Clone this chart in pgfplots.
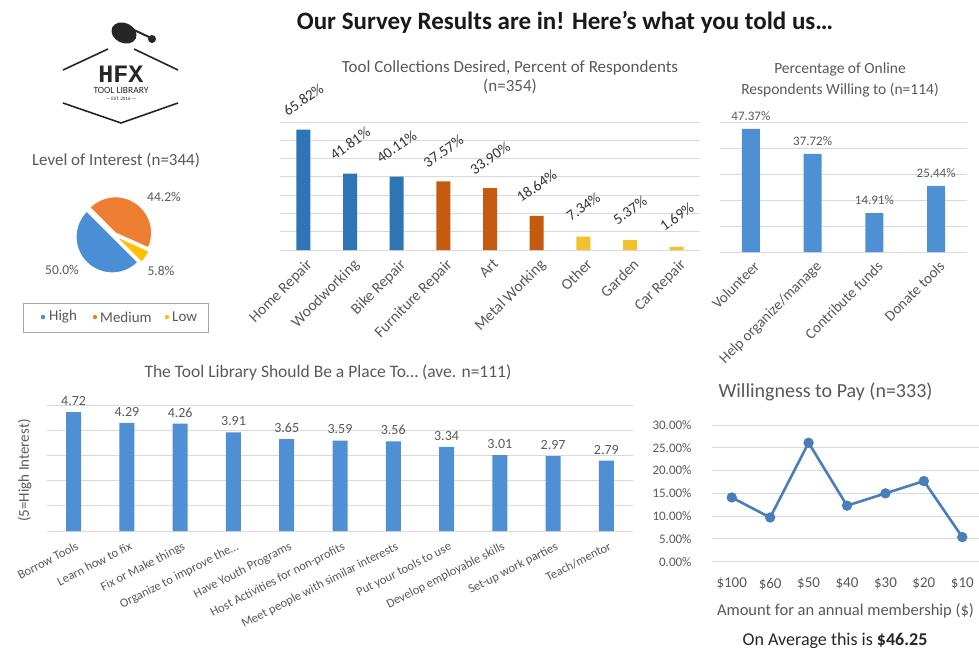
\documentclass[border=0pt]{standalone}
\usepackage{pgfplots}
\pgfplotsset{compat=1.18}
\usepackage{fontspec}
\setmainfont{Carlito}
\newfontfamily\slab{Liberation Mono}
\definecolor{dblue}{HTML}{2E75B6}
\definecolor{dorange}{HTML}{C55A11}
\definecolor{dgold}{HTML}{F2C12E}
\definecolor{mblue}{HTML}{4F8FD3}
\definecolor{lineblue}{HTML}{4A7EBB}
\definecolor{pblue}{HTML}{4A8FD6}
\definecolor{porange}{HTML}{ED7D31}
\definecolor{pyellow}{HTML}{FFC000}
\definecolor{txt}{HTML}{595959}
\definecolor{gridc}{HTML}{D9D9D9}
\pgfplotsset{
  /pgf/number format/assume math mode=true,
  barbase/.style={
    scale only axis, anchor=south west, ybar, bar shift=0pt,
    axis line style={draw=none}, major tick style={draw=none},
    ymajorgrids, grid style={draw=gridc, line width=0.9pt},
    yticklabels={}, ymin=0, enlargelimits=false, clip=false,
    tick label style={text=txt},
  }
}
\begin{document}
\begin{tikzpicture}[font=\fontsize{13}{15}\selectfont]
\useasboundingbox (0,0) rectangle (979pt,-656pt);
\fill[white] (0,0) rectangle (979pt,-656pt);

% main title
\node[font=\fontsize{25}{30}\selectfont\bfseries, text=black!90] at (565pt,-22pt) {Our Survey Results are in! Here’s what you told us…};

% logo
\begin{scope}[line width=1.6pt, draw=black!85]
\draw (63pt,-70pt) -- (108pt,-49pt);
\draw (134pt,-49pt) -- (178pt,-70pt);
\draw (63pt,-103pt) -- (121pt,-123pt) -- (178pt,-103pt);
\end{scope}
\fill[black!85, rotate around={-25:(124pt,-33pt)}] (124pt,-33pt) ellipse (13pt and 10pt);
\draw[black!85, line width=2pt] (134pt,-30pt) -- (149pt,-37pt);
\fill[black!85] (152pt,-39pt) circle (4pt);
\node[font=\slab\fontsize{25}{27}\selectfont\bfseries, text=black!85] at (121pt,-74pt) {HFX};
\node[font=\fontsize{9.5}{10}\selectfont, text=black!85] at (121pt,-90pt) {TOOL LIBRARY};
\node[font=\fontsize{5}{6}\selectfont, text=black!85] at (121pt,-99pt) {--- EST. 2016 ---};

% pie
\node[text=txt, font=\fontsize{17}{20}\selectfont] at (116pt,-160pt) {Level of Interest (n=344)};
\def\vHigh{50.0}\def\vMed{44.2}\def\vLow{5.8}
\pgfmathsetmacro\aA{135}
\pgfmathsetmacro\aB{\aA+3.6*\vHigh}
\pgfmathsetmacro\aC{\aB+3.6*\vLow}
\pgfmathsetmacro\aD{\aC+3.6*\vMed}
\begin{axis}[hide axis, scale only axis, width=72pt, height=72pt, at={(114pt,-235pt)}, anchor=center,
  xmin=-1, xmax=1, ymin=-1, ymax=1, clip=false]
\fill[pblue, draw=white, line width=0.8pt, shift={(225:2.6pt)}] (axis cs:0,0) -- ++(\aA:36pt) arc[start angle=\aA, end angle=\aB, radius=36pt] -- cycle;
\fill[pyellow, draw=white, line width=0.8pt, shift={(325:2.6pt)}] (axis cs:0,0) -- ++(\aB:36pt) arc[start angle=\aB, end angle=\aC, radius=36pt] -- cycle;
\fill[porange, draw=white, line width=0.8pt, shift={(55:2.6pt)}] (axis cs:0,0) -- ++(\aC:36pt) arc[start angle=\aC, end angle=\aD, radius=36pt] -- cycle;
\end{axis}
\node[text=txt, font=\fontsize{13.5}{15}\selectfont] at (164pt,-197pt) {44.2\%};
\node[text=txt, font=\fontsize{13.5}{15}\selectfont] at (62pt,-270pt) {50.0\%};
\node[text=txt, font=\fontsize{13.5}{15}\selectfont] at (161pt,-271pt) {5.8\%};
\draw[draw=black!35, line width=0.8pt] (23pt,-303pt) rectangle (208pt,-332pt);
\begin{scope}[font=\fontsize{15}{17}\selectfont, text=txt]
\fill[pblue] (43pt,-317pt) circle (2.2pt);
\node[anchor=west, inner sep=0pt] at (49pt,-317pt) {High};
\fill[porange] (95pt,-317pt) circle (2.2pt);
\node[anchor=west, inner sep=0pt] at (100pt,-317pt) {Medium};
\fill[pyellow] (167pt,-317pt) circle (2.2pt);
\node[anchor=west, inner sep=0pt] at (172pt,-317pt) {Low};
\end{scope}

% chart A
\node[text=txt, font=\fontsize{17}{19}\selectfont, align=center] at (510pt,-77pt) {Tool Collections Desired, Percent of Respondents\\(n=354)};
\begin{axis}[barbase, at={(280pt,-250pt)}, width=420pt, height=128pt,
  xmin=-0.5, xmax=8.5, ymax=70, ytick={0,10,...,70},
  xtick={0,...,8},
  xticklabels={Home Repair,Woodworking,Bike Repair,Furniture Repair,Art,Metal Working,Other,Garden,Car Repair},
  xticklabel style={rotate=45, anchor=north east, inner sep=1pt, yshift=-3pt, font=\fontsize{15.5}{17}\selectfont},
  bar width=14pt,
  nodes near coords={\pgfmathprintnumber[fixed,fixed zerofill,precision=2]{\pgfplotspointmeta}\%},
  every node near coord/.append style={font=\fontsize{15}{17}\selectfont, text=black!80, anchor=center, yshift=30pt, rotate=35},
]
\addplot[fill=dblue, draw=none] coordinates {(0,65.82) (1,41.81) (2,40.11)};
\addplot[fill=dorange, draw=none] coordinates {(3,37.57) (4,33.90) (5,18.64)};
\addplot[fill=dgold, draw=none] coordinates {(6,7.34) (7,5.37) (8,1.69)};
\end{axis}

% chart B
\node[text=txt, font=\fontsize{15.5}{21}\selectfont, align=center] at (840pt,-80pt) {Percentage of Online\\Respondents Willing to (n=114)};
\begin{axis}[barbase, at={(720pt,-252pt)}, width=247pt, height=130pt,
  xmin=-0.5, xmax=3.5, ymax=50, ytick={0,10,...,50},
  xtick={0,...,3},
  xticklabels={Volunteer,Help organize/manage,Contribute funds,Donate tools},
  xticklabel style={rotate=45, anchor=north east, inner sep=1pt, yshift=-3pt, font=\fontsize{15}{17}\selectfont},
  bar width=18pt,
  nodes near coords={\pgfmathprintnumber[fixed,fixed zerofill,precision=2]{\pgfplotspointmeta}\%},
  every node near coord/.append style={font=\fontsize{13}{15}\selectfont, text=txt, anchor=south, yshift=5pt},
]
\addplot[fill=mblue, draw=none] coordinates {(0,47.37) (1,37.72) (2,14.91) (3,25.44)};
\end{axis}

% chart C
\node[text=txt, font=\fontsize{17.5}{20}\selectfont] at (328pt,-373pt) {The Tool Library Should Be a Place To… (ave. n=111)};
\begin{axis}[barbase, at={(47pt,-531pt)}, width=586pt, height=126pt,
  xmin=-0.5, xmax=10.5, ymax=5, ytick={0,...,5},
  xtick={0,...,10},
  xticklabels={Borrow Tools,Learn how to fix,Fix or Make things,{Organize to improve the…},Have Youth Programs,Host Activities for non-profits,Meet people with similar interests,Put your tools to use,Develop employable skills,Set-up work parties,Teach/mentor},
  xticklabel style={rotate=27, anchor=north east, inner sep=1pt, yshift=-5pt, font=\fontsize{12.5}{14}\selectfont},
  bar width=15pt,
  ylabel={(5=High Interest)},
  every axis y label/.style={at={(axis description cs:-0.038,0.48)}, rotate=90, anchor=center, text=txt, font=\fontsize{15}{17}\selectfont},
  nodes near coords={\pgfmathprintnumber[fixed,fixed zerofill,precision=2]{\pgfplotspointmeta}},
  every node near coord/.append style={font=\fontsize{14}{16}\selectfont, text=txt, anchor=south, yshift=3pt},
]
\addplot[fill=mblue, draw=none] coordinates {(0,4.72) (1,4.29) (2,4.26) (3,3.91) (4,3.65) (5,3.59) (6,3.56) (7,3.34) (8,3.01) (9,2.97) (10,2.79)};
\end{axis}

% chart D
\node[text=txt, font=\fontsize{20}{23}\selectfont, anchor=west] at (715pt,-392pt) {Willingness to Pay (n=333)};
\begin{axis}[scale only axis, anchor=south west, at={(712pt,-561.7pt)}, width=267pt, height=136.7pt,
  xmin=-0.513, xmax=6.435, ymin=0, ymax=30, ytick={0,5,...,30},
  yticklabel={\pgfmathprintnumber[fixed,fixed zerofill,precision=2]{\tick}\%},
  xtick={0,...,6}, xticklabels={\$100,\$60,\$50,\$40,\$30,\$20,\$10},
  axis line style={draw=none}, major tick style={draw=none},
  ymajorgrids, grid style={draw=gridc, line width=0.9pt},
  tick label style={text=txt, font=\fontsize{13}{15}\selectfont},
  xticklabel style={yshift=-13pt, font=\fontsize{15}{17}\selectfont},
  yticklabel style={xshift=-17pt},
  xlabel={Amount for an annual membership (\$)},
  every axis x label/.style={at={(axis description cs:0.5,-0.36)}, anchor=center, text=txt, font=\fontsize{16.5}{19}\selectfont},
  clip=false,
]
\addplot[color=lineblue, line width=2.6pt, mark=*, mark size=3.8pt, mark options={fill=lineblue, draw=lineblue}] coordinates {(0,14.1) (1,9.7) (2,26.1) (3,12.3) (4,15.0) (5,17.7) (6,5.4)};
\end{axis}
\node[font=\fontsize{18}{21}\selectfont, text=black!85] at (835pt,-641pt) {On Average this is \textbf{\$46.25}};
\end{tikzpicture}
\end{document}
